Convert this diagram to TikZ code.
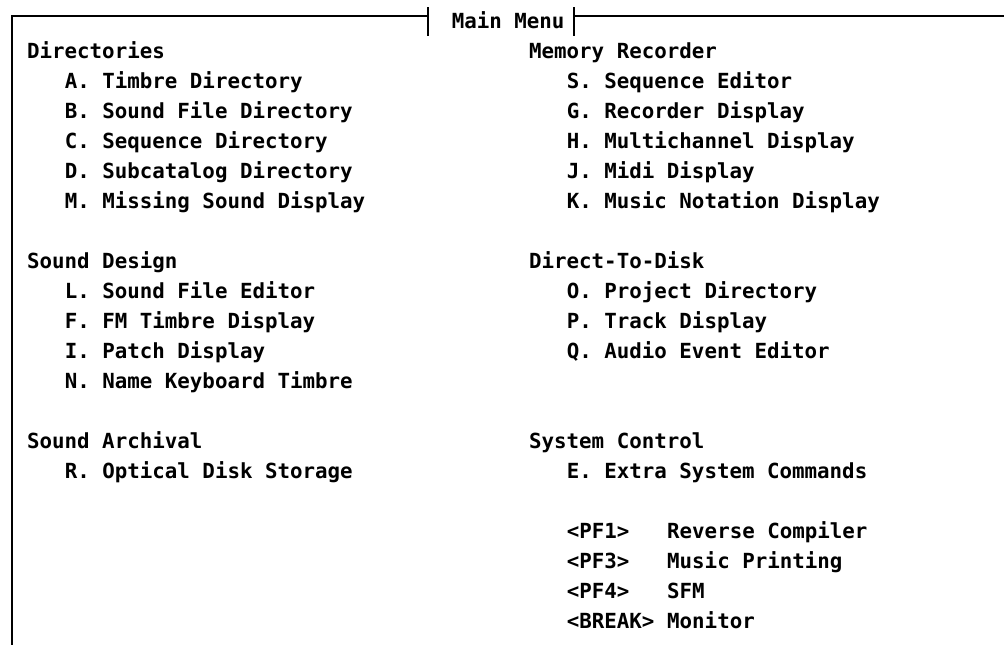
\documentclass[tikz,border=0pt]{standalone}
\usepackage{fontspec}
\newfontfamily\termfont{DejaVu Sans Mono}
\usetikzlibrary{positioning}

\begin{document}
\begin{tikzpicture}[x=0.5pt,y=-0.5pt,line width=1pt,
    every node/.style={outer sep=0pt,inner sep=0pt},
    menutext/.style={anchor=base west,font=\termfont\bfseries\fontsize{10.4}{12}\selectfont},
    frame/.style={line width=1.1pt,line cap=rect}]
   \useasboundingbox (0,0) rectangle (1004,644);

   % title bar
   \node[menutext] (title) at ({36*12.55},28) {Main Menu};
   \coordinate (tl) at (428,16);
   \coordinate (tr) at (574,16);
   \draw[frame] (12,644) -- (12,16) -- (tl);
   \draw[frame] (tr) -- (1004,16);
   \draw[frame] ([yshift=4pt]tl) -- ([yshift=-9.5pt]tl);
   \draw[frame] ([yshift=4pt]tr) -- ([yshift=-9.5pt]tr);

   % left column
   \foreach \R/\C/\T in {1/2/Directories, 2/5/{A. Timbre Directory},
       3/5/{B. Sound File Directory}, 4/5/{C. Sequence Directory},
       5/5/{D. Subcatalog Directory}, 6/5/{M. Missing Sound Display},
       8/2/{Sound Design}, 9/5/{L. Sound File Editor},
       10/5/{F. FM Timbre Display}, 11/5/{I. Patch Display},
       12/5/{N. Name Keyboard Timbre},
       14/2/{Sound Archival}, 15/5/{R. Optical Disk Storage}}
   {
       \node[menutext] (l\R) at ({\C*12.55+2},{28+30*\R}) {\T};
   }

   % right column
   \foreach \R/\C/\T in {1/42/{Memory Recorder}, 2/45/{S. Sequence Editor},
       3/45/{G. Recorder Display}, 4/45/{H. Multichannel Display},
       5/45/{J. Midi Display}, 6/45/{K. Music Notation Display},
       8/42/Direct-To-Disk, 9/45/{O. Project Directory},
       10/45/{P. Track Display}, 11/45/{Q. Audio Event Editor},
       14/42/{System Control}, 15/45/{E. Extra System Commands}}
   {
       \node[menutext] (r\R) at ({\C*12.55+2},{28+30*\R}) {\T};
   }

   % function keys
   \foreach \R/\K/\T in {17/{<PF1>}/{Reverse Compiler}, 18/{<PF3>}/{Music Printing},
       19/{<PF4>}/SFM, 20/{<BREAK>}/Monitor}
   {
       \node[menutext] (k\R) at ({45*12.55+2},{28+30*\R}) {\K};
       \node[menutext] (r\R) at ({53*12.55+2},{28+30*\R}) {\T};
   }
\end{tikzpicture}
\end{document}
